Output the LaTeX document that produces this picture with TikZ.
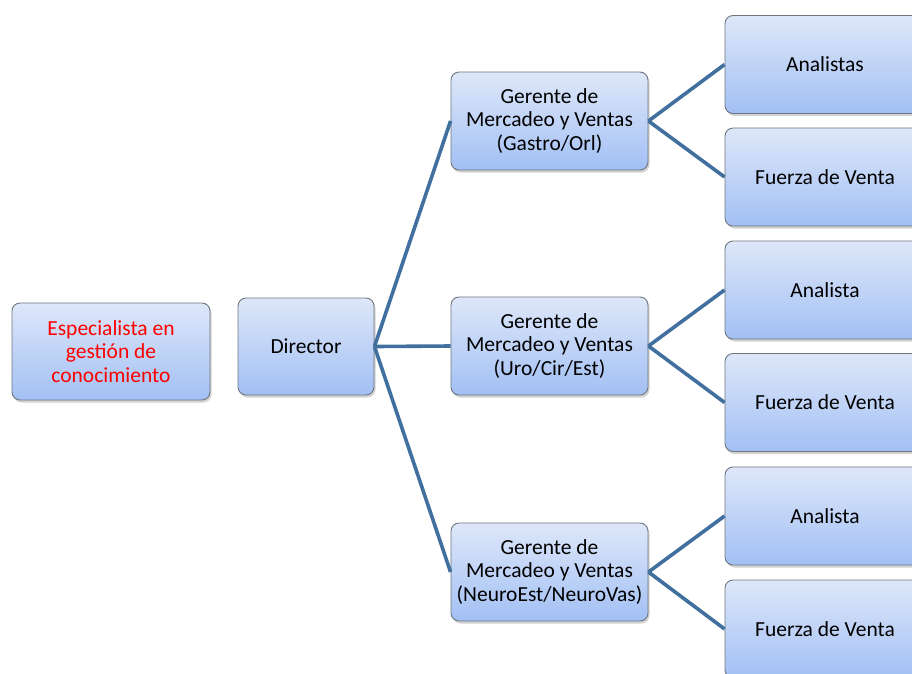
\documentclass[tikz,border=0pt]{standalone}
\usepackage{fontspec}
\setmainfont{Carlito}
\usepackage{tikz}
\usetikzlibrary{positioning,shadows}
\definecolor{boxtop}{HTML}{DEE7F9}
\definecolor{boxbot}{HTML}{A2C0F4}
\definecolor{boxline}{HTML}{6E7680}
\definecolor{linkblue}{HTML}{41709F}
\tikzset{
  orgbox/.style={rectangle, rounded corners=8pt, draw=boxline, line width=0.9pt,
                 top color=boxtop, bottom color=boxbot, align=center,
                 inner sep=2pt, font=\fontsize{21.5}{23.5}\selectfont,
                 drop shadow={opacity=0.35, shadow xshift=1.5pt, shadow yshift=-2.5pt}},
  head/.style  ={orgbox, minimum width=198pt, minimum height=97pt},
  dirbox/.style={orgbox, minimum width=136pt, minimum height=97pt},
  mgr/.style   ={orgbox, minimum width=197pt, minimum height=98pt},
  team/.style  ={orgbox, minimum width=200pt, minimum height=98pt},
  link/.style  ={draw=linkblue, line width=3.6pt},
}
\def\mgrlist{g1/121/{(Gastro/Orl)}, g2/346/{(Uro/Cir/Est)}, g3/572/{(NeuroEst/NeuroVas)}}
\def\teamlist{a1/64.5/Analistas/g1, f1/177/Fuerza de Venta/g1,
              a2/290/Analista/g2, f2/402.5/Fuerza de Venta/g2,
              a3/516/Analista/g3, f3/629/Fuerza de Venta/g3}

\begin{document}
\begin{tikzpicture}[x=1pt,y=-1pt]
\clip (0,0) rectangle (912,673);
\node[head, text=red] (spec) at (111,351.5) {Especialista en\\ gestión de\\ conocimiento};
\node[dirbox] (dir) at (306,346.5) {Director};
\foreach \n/\y/\lab in \mgrlist {
  \node[mgr] (\n) at (549.5,\y) {Gerente de\\ Mercadeo y Ventas\\ \lab};
  \draw[link] (dir.east) -- (\n.west);}
\foreach \n/\y/\lab/\up in \teamlist {
  \node[team] (\n) at (825,\y) {\lab};
  \draw[link] (\up.east) -- (\n.west);}
\end{tikzpicture}
\end{document}
